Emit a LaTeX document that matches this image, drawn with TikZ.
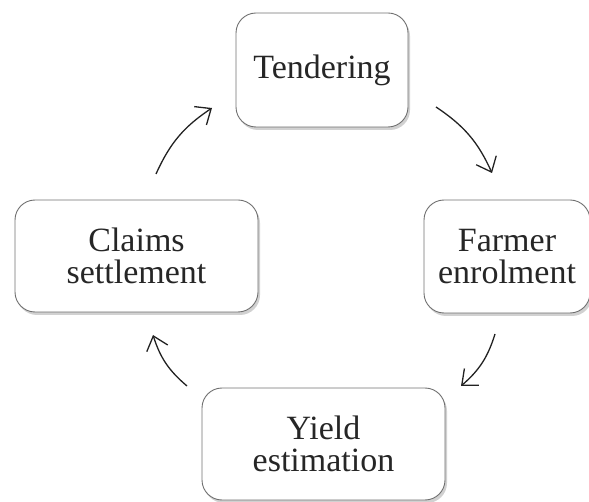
\documentclass[tikz,border=0pt]{standalone}
\usepackage{fontspec}
\setmainfont{Liberation Serif}
\usetikzlibrary{arrows.meta,shadows}
\definecolor{boxline}{HTML}{707070}
\definecolor{arrowcol}{HTML}{222222}
\definecolor{textcol}{HTML}{262626}
\begin{document}
\begin{tikzpicture}[x=1pt,y=-1pt,
  stagebox/.style={draw=boxline, line width=0.9pt, rounded corners=20pt, fill=white,
    align=center, text=textcol, font=\fontsize{34}{32}\selectfont, inner sep=0pt,
    drop shadow={shadow xshift=2pt, shadow yshift=-3pt, fill=black!40, opacity=0.45}},
  cyclearrow/.style={draw=arrowcol, line width=1.3pt, bend left=16,
    -{Straight Barb[length=13pt,width=22pt,line width=1.3pt]}}]
\useasboundingbox (0,0) rectangle (589,502);
\node[stagebox, minimum width=172pt, minimum height=114pt] (tend) at (322,70) {Tendering};
\node[stagebox, minimum width=166pt, minimum height=113pt] (farm) at (507,256.5) {Farmer\\enrolment};
\node[stagebox, minimum width=243pt, minimum height=112pt] (claim) at (136.5,256) {Claims\\settlement};
\node[stagebox, minimum width=243pt, minimum height=112pt] (yield) at (323.5,444) {Yield\\estimation};
\coordinate (a1s) at (156,174); \coordinate (a1e) at (212,108);
\coordinate (a2s) at (436,107); \coordinate (a2e) at (492,173);
\coordinate (a3s) at (495,334); \coordinate (a3e) at (461,386);
\coordinate (a4s) at (187,386); \coordinate (a4e) at (153,335);
\draw[cyclearrow] (a1s) to (a1e);
\draw[cyclearrow] (a2s) to (a2e);
\draw[cyclearrow] (a3s) to (a3e);
\draw[cyclearrow] (a4s) to (a4e);
\end{tikzpicture}
\end{document}
